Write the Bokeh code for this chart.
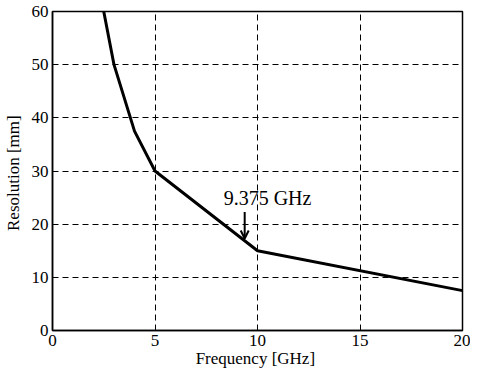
from bokeh.plotting import figure
from bokeh.models import Range1d, FixedTicker, Arrow, OpenHead, Label
from bokeh.embed import file_html
from bokeh.resources import INLINE

freq_ghz = [2.5, 3, 4, 5, 10, 20]
resolution_mm = [60, 50, 37.5, 30, 15, 7.5]
x_ticks = [0, 5, 10, 15, 20]
y_ticks = [0, 10, 20, 30, 40, 50, 60]
annot_freq = 9.375
annot_res = 17.3
annot_text = "9.375 GHz"

FONT = "Liberation Serif"

p = figure(width=470, height=372, output_backend="svg", toolbar_location=None,
           x_range=Range1d(0, 20), y_range=Range1d(0, 60),
           min_border_left=48, min_border_right=8, min_border_top=11, min_border_bottom=42)

p.line(freq_ghz, resolution_mm, line_color="black", line_width=3)

p.add_layout(Arrow(end=OpenHead(size=8, line_width=2, line_color="black"),
                   x_start=annot_freq, y_start=annot_res + 5, x_end=annot_freq, y_end=annot_res,
                   line_width=2, line_color="black"))
p.add_layout(Label(x=8.35, y=annot_res + 5.5, text=annot_text,
                   text_font=FONT, text_font_size="20px", text_color="black"))

for ax in (p.xaxis, p.yaxis):
    ax.major_label_text_font = FONT
    ax.major_label_text_font_size = "17px"
    ax.major_label_text_color = "black"
    ax.axis_label_text_font = FONT
    ax.axis_label_text_font_size = "17px"
    ax.axis_label_text_font_style = "normal"
    ax.axis_label_text_color = "black"
    ax.major_tick_out = 0
    ax.major_tick_in = 4
    ax.major_tick_line_color = "black"
    ax.minor_tick_out = 0
    ax.minor_tick_in = 0
    ax.axis_line_color = "black"
    ax.axis_line_width = 1.5

p.xaxis.ticker = FixedTicker(ticks=x_ticks)
p.yaxis.ticker = FixedTicker(ticks=y_ticks)
p.xaxis.axis_label = "Frequency  [GHz]"
p.yaxis.axis_label = "Resolution  [mm]"
p.xaxis.major_label_standoff = 4
p.yaxis.major_label_standoff = 4
p.xaxis.axis_label_standoff = 0
p.yaxis.axis_label_standoff = 6

p.grid.grid_line_color = "black"
p.grid.grid_line_dash = "6 4"
p.grid.grid_line_width = 1

p.outline_line_color = "black"
p.outline_line_width = 1.5
p.outline_line_alpha = 1

open("out.html", "w").write(file_html(p, INLINE))
